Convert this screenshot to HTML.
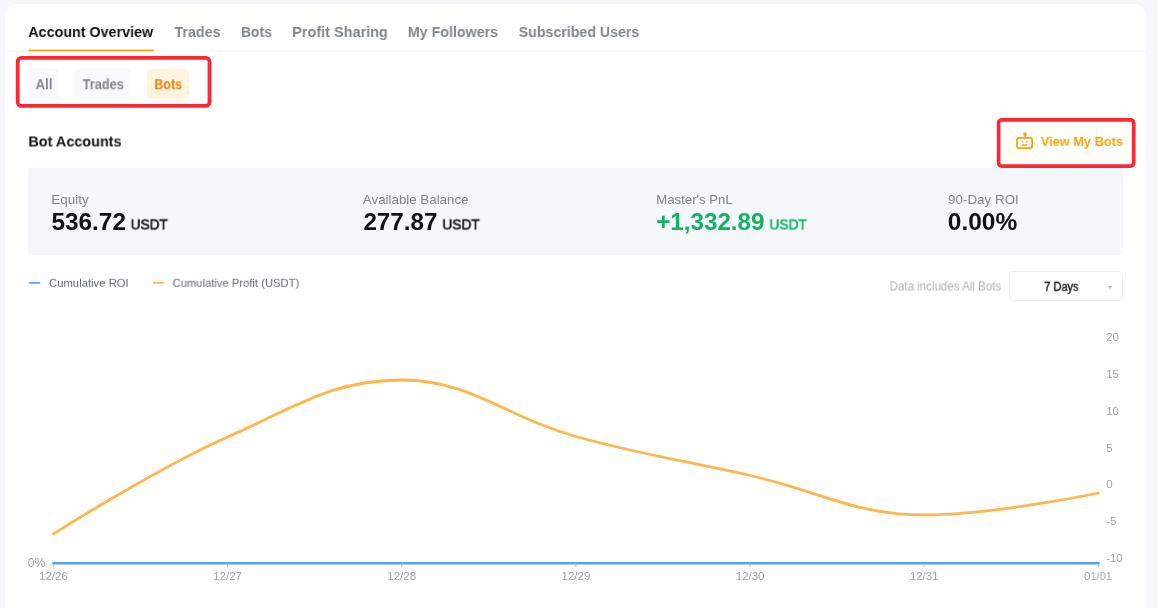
<!DOCTYPE html>
<html>
<head>
<meta charset="utf-8">
<title>Account Overview</title>
<style>
html,body{margin:0;padding:0;}
body{width:1158px;height:608px;overflow:hidden;background:#f5f7fa;font-family:"Liberation Sans",sans-serif;position:relative;}
.card{position:absolute;left:5px;top:4px;width:1141px;height:620px;background:#fff;border-radius:12px 12px 0 0;}
.t{position:absolute;white-space:nowrap;line-height:1;transform-origin:0 0;will-change:transform;}
.tab{font-weight:bold;font-size:15.4px;color:#81858c;top:24px;}
.tab.on{color:#121214;}
.pt{font-size:14px;font-weight:bold;color:#81858c;top:77px;}
.panel{position:absolute;left:28px;top:168px;width:1095px;height:87px;background:#f5f7fa;border-radius:4px;}
.lab{font-size:13px;color:#81858c;top:193px;}
.val{font-size:23.4px;font-weight:bold;color:#121214;top:210px;}
.unit{font-size:14.5px;font-weight:normal;color:#121214;top:217px;-webkit-text-stroke:0.6px currentColor;}
.leg{font-size:11.3px;color:#62666d;top:277px;}
.ax{font-size:12px;color:#9a9fa8;}
.sel{position:absolute;left:1009px;top:271px;width:114px;height:30px;box-sizing:border-box;border:1px solid #eceef2;border-radius:4px;background:#fff;}
</style>
</head>
<body>
<div class="card"></div>

<span class="t tab on" id="t1" style="left:28px;transform:translate(0.28px,-0.05px) scaleX(0.9296);">Account Overview</span>
<span class="t tab" id="t2" style="left:174px;transform:translate(0.40px,-0.05px) scaleX(0.9328);">Trades</span>
<span class="t tab" id="t3" style="left:241px;transform:translate(0.00px,-0.05px) scaleX(0.9003);">Bots</span>
<span class="t tab" id="t4" style="left:292px;transform:translate(0.19px,-0.05px) scaleX(0.9398);">Profit Sharing</span>
<span class="t tab" id="t5" style="left:407px;transform:translate(0.85px,-0.05px) scaleX(0.9249);">My Followers</span>
<span class="t tab" id="t6" style="left:518px;transform:translate(0.70px,-0.05px) scaleX(0.9217);">Subscribed Users</span>
<svg style="position:absolute;left:0;top:0;" width="1158" height="320" viewBox="0 0 1158 320">
<rect x="5" y="50.4" width="1141" height="1.3" fill="#f6f7f9"/>
<rect x="28.2" y="49.4" width="125.8" height="1.8" rx="0.9" fill="#fda612"/>
<rect x="28.1" y="68.8" width="31.1" height="30.6" rx="5" fill="#f8f9fb"/>
<rect x="74.7" y="68.8" width="56.5" height="30.6" rx="5" fill="#f8f9fb"/>
<rect x="146.7" y="68.8" width="42.5" height="30.6" rx="5" fill="#fff3e0"/>
<rect x="17.7" y="57.8" width="191.8" height="48.1" rx="3.6" fill="none" stroke="#fd2831" stroke-width="3.8"/>
<rect x="998.6" y="119.95" width="135.1" height="46.1" rx="3" fill="none" stroke="#fd2831" stroke-width="3.7"/>
<line x1="29.8" y1="282.8" x2="39.4" y2="282.8" stroke="#5aa2f5" stroke-width="1.8" stroke-linecap="round"/>
<line x1="153.7" y1="282.8" x2="163" y2="282.8" stroke="#ffb74d" stroke-width="1.8" stroke-linecap="round"/>
</svg>

<span class="t pt" id="p1" style="left:35px;transform:translate(0.55px,0.20px) scaleX(0.9438);">All</span>
<span class="t pt" id="p2" style="left:82px;transform:translate(0.67px,0.20px) scaleX(0.9137);">Trades</span>
<span class="t pt" id="p3" style="left:154px;color:#e8830c;transform:translate(0.29px,0.20px) scaleX(0.8927);">Bots</span>

<span class="t" id="h1" style="left:28px;top:134px;font-size:15px;font-weight:bold;color:#121214;transform:translate(0.38px,-0.50px) scaleX(0.9616);">Bot Accounts</span>

<svg id="robot" style="position:absolute;left:1015px;top:131px;" width="20" height="20" viewBox="0 0 20 20" fill="none" stroke="#fba208" stroke-width="1.7">
<rect x="1.95" y="6.95" width="15.2" height="10.2" rx="1.9"/>
<line x1="10" y1="4" x2="10" y2="7"/>
<circle cx="10" cy="3.05" r="1.85" fill="#fba208" stroke="none"/>
<rect x="6.8" y="10.05" width="1.5" height="1.5" fill="#fba208" stroke="none"/>
<rect x="11.05" y="10.05" width="1.5" height="1.5" fill="#fba208" stroke="none"/>
<line x1="7.4" y1="14.1" x2="11.9" y2="14.1" stroke-width="1.5" stroke-linecap="round"/>
</svg>
<span class="t" id="vmb" style="left:1040px;top:135px;font-size:13px;font-weight:bold;color:#fba208;transform:translate(0.77px,-0.15px) scaleX(0.9842);">View My Bots</span>

<div class="panel"></div>
<span class="t lab" id="l1" style="left:51px;transform:translate(0.36px,-0.10px) scaleX(1.0365);">Equity</span>
<span class="t val" id="v1" style="left:51px;transform:translate(0.47px,0.50px) scaleX(1.0407);">536.72</span><span class="t unit" id="u1" style="left:130px;transform:translate(0.69px,0.40px) scaleX(0.9382);">USDT</span>
<span class="t lab" id="l2" style="left:362px;transform:translate(0.87px,-0.10px) scaleX(1.0240);">Available Balance</span>
<span class="t val" id="v2" style="left:363px;transform:translate(0.39px,0.50px) scaleX(1.0355);">277.87</span><span class="t unit" id="u2" style="left:442px;transform:translate(0.27px,0.40px) scaleX(0.9489);">USDT</span>
<span class="t lab" id="l3" style="left:656px;transform:translate(0.24px,-0.10px) scaleX(1.0138);">Master's PnL</span>
<span class="t val" id="v3" style="left:656px;color:#12b264;transform:translate(0.15px,0.50px) scaleX(1.0350);">+1,332.89</span><span class="t unit" id="u3" style="left:769px;color:#12b264;transform:translate(0.38px,0.40px) scaleX(0.9494);">USDT</span>
<span class="t lab" id="l4" style="left:948px;transform:translate(0.05px,-0.10px) scaleX(1.0304);">90-Day ROI</span>
<span class="t val" id="v4" style="left:947px;transform:translate(0.83px,0.50px) scaleX(1.0465);">0.00%</span>

<span class="t leg" id="g1" style="left:48px;transform:translate(0.96px,0.80px) scaleX(0.9996);">Cumulative ROI</span>
<span class="t leg" id="g2" style="left:172px;transform:translate(0.56px,0.80px) scaleX(0.9936);">Cumulative Profit (USDT)</span>

<span class="t" id="dinc" style="left:889px;top:280px;font-size:12px;color:#adb1b8;transform:translate(0.56px,0.39px) scaleX(0.9617);">Data includes All Bots</span>
<div class="sel"></div>
<span class="t" id="d7" style="left:1044px;top:280px;font-size:12px;color:#121214;-webkit-text-stroke:0.35px #121214;transform:translate(0.22px,0.81px) scaleX(0.9199);">7 Days</span>
<div style="position:absolute;left:1107.6px;top:286px;width:0;height:0;border-left:2px solid transparent;border-right:2px solid transparent;border-top:3px solid #adb1b8;"></div>

<svg id="chart" style="position:absolute;left:0;top:320px;" width="1158" height="288" viewBox="0 320 1158 288">
<path id="curve" d="M53.4,533.9 C53.4,533.9 157.9,467.8 227.6,437.0 C297.2,406.2 332.1,380.0 401.7,380.0 C471.4,380.0 506.2,417.4 575.9,436.5 C645.6,455.6 680.4,459.8 750.1,475.5 C819.7,491.2 854.6,514.9 924.2,514.9 C993.9,514.9 1098.4,493.0 1098.4,493.0" fill="none" stroke="#ffb74d" stroke-width="2.8" stroke-linecap="round"/>
<line x1="53.4" y1="563.2" x2="1098.5" y2="563.2" stroke="#5aa2f5" stroke-width="2.4" stroke-linecap="round"/>
<g stroke="#a9c0e0" stroke-width="1"><line x1="53.4" y1="564" x2="53.4" y2="567"/><line x1="227.6" y1="564" x2="227.6" y2="567"/><line x1="401.7" y1="564" x2="401.7" y2="567"/><line x1="575.9" y1="564" x2="575.9" y2="567"/><line x1="750.1" y1="564" x2="750.1" y2="567"/><line x1="924.2" y1="564" x2="924.2" y2="567"/><line x1="1098.4" y1="564" x2="1098.4" y2="567"/></g>
</svg>

<span class="t ax" id="y20" style="font-size:11px;left:1106px;top:331px;transform:translate(0.20px,0.88px) scaleX(1.04);">20</span>
<span class="t ax" id="y15" style="font-size:11px;left:1106px;transform:translate(0.20px,0.78px) scaleX(1.04);top:368px;">15</span>
<span class="t ax" id="y10" style="font-size:11px;left:1106px;transform:translate(0.20px,0.68px) scaleX(1.04);top:405px;">10</span>
<span class="t ax" id="y5" style="font-size:11px;left:1106px;transform:translate(0.20px,0.58px) scaleX(1.04);top:442px;">5</span>
<span class="t ax" id="y0" style="font-size:11px;left:1106px;transform:translate(0.20px,0.48px) scaleX(1.04);top:479px;">0</span>
<span class="t ax" id="ym5" style="font-size:11px;left:1106px;transform:translate(0.20px,0.38px) scaleX(1.04);top:516px;">-5</span>
<span class="t ax" id="ym10" style="font-size:11px;left:1106px;top:553px;transform:translate(0.20px,0.28px) scaleX(1.04);">-10</span>

<span class="t ax" id="pct" style="left:27px;top:557px;transform:translate(0.80px,0.02px) scaleX(1.0200);">0%</span>
<span class="t ax xl" id="x1" style="font-size:11.5px;left:39px;top:571px;transform:translate(0.02px,0.02px) scaleX(1.0000);">12/26</span>
<span class="t ax xl" id="x2" style="font-size:11.5px;left:213px;top:571px;transform:translate(0.22px,0.02px) scaleX(1.0000);">12/27</span>
<span class="t ax xl" id="x3" style="font-size:11.5px;left:387px;top:571px;transform:translate(0.32px,0.02px) scaleX(1.0000);">12/28</span>
<span class="t ax xl" id="x4" style="font-size:11.5px;left:561px;top:571px;transform:translate(0.52px,0.02px) scaleX(1.0000);">12/29</span>
<span class="t ax xl" id="x5" style="font-size:11.5px;left:735px;top:571px;transform:translate(0.73px,0.02px) scaleX(1.0000);">12/30</span>
<span class="t ax xl" id="x6" style="font-size:11.5px;left:909px;top:571px;transform:translate(0.83px,0.02px) scaleX(1.0000);">12/31</span>
<span class="t ax xl" id="x7" style="font-size:11.5px;left:1084px;top:571px;transform:translate(0.03px,0.02px) scaleX(0.9700);">01/01</span>
</body>
</html>
